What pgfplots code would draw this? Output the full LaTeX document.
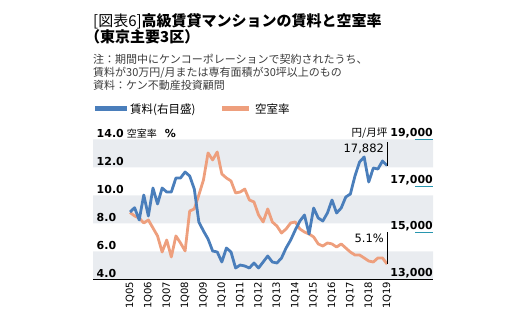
\documentclass[border=0pt]{standalone}
\usepackage{fontspec}
\setmainfont{Noto Sans CJK JP}
\newfontfamily\numfont{DejaVu Sans}
\usepackage{pgfplots}
\pgfplotsset{compat=1.18}
\definecolor{cblue}{RGB}{74,126,187}
\definecolor{corange}{RGB}{238,159,125}
\definecolor{cband}{RGB}{233,236,240}
\definecolor{cteal}{RGB}{40,150,175}
\definecolor{cnote}{RGB}{60,60,60}

\pgfplotstableread{
i R
0 15893
1 16077
2 15550
3 16621
4 15721
5 16921
6 16236
7 16921
8 16750
9 16750
10 17350
11 17350
12 17607
13 17436
14 16879
15 15464
16 15079
17 14736
18 14221
19 14179
20 13750
21 14350
22 14179
23 13493
24 13621
25 13579
26 13493
27 13707
28 13493
29 13750
30 14007
31 13750
32 13707
33 13921
34 14350
35 14693
36 15121
37 15507
38 15764
39 14950
40 16064
41 15636
42 15507
43 15850
44 16407
45 15850
46 16064
47 16536
48 16664
49 17436
50 18036
51 18250
52 17179
53 17779
54 17736
55 18079
56 17882
}\rent

\pgfplotstableread{
i V
0 8.79
1 8.54
2 8.39
3 8.04
4 8.25
5 7.68
6 7.11
7 5.96
8 6.82
9 5.61
10 7.11
11 6.61
12 6.04
13 8.89
14 9.04
15 10.04
16 11.11
17 13.04
18 12.54
19 13.11
20 11.54
21 11.25
22 11.04
23 10.18
24 10.25
25 10.46
26 9.68
27 9.54
28 8.61
29 8.11
30 9.04
31 8.11
32 7.82
33 7.32
34 7.61
35 8.04
36 8.11
37 7.61
38 7.39
39 7.25
40 7.04
41 6.54
42 6.39
43 6.61
44 6.54
45 6.32
46 6.54
47 6.25
48 5.96
49 5.75
50 5.75
51 5.54
52 5.32
53 5.25
54 5.54
55 5.54
56 5.10
}\vacancy

\pgfplotsset{
  common/.style={
    at={(93pt,46.5pt)}, anchor=south west, scale only axis,
    width=340pt, height=140pt,
    xmin=-8.06, xmax=66,
    axis line style={draw=none}, tick style={draw=none},
    clip=false,
  }
}

\begin{document}
\begin{tikzpicture}
\path[use as bounding box] (0,0) rectangle (526pt,326pt);

% titles
\node[anchor=base west, inner sep=0] at (93pt,299pt)
  {\fontsize{15}{16}\selectfont [図表6]\textbf{高級賃貸マンションの賃料と空室率}};
\node[anchor=base west, inner sep=0] at (93pt,283pt)
  {\fontsize{15}{16}\selectfont\bfseries\hspace*{-8pt}（東京主要3区）};
\node[anchor=base west, inner sep=0, text=cnote] at (93pt,262pt)
  {\fontsize{11}{13}\selectfont 注：期間中にケンコーポレーションで契約されたうち、};
\node[anchor=base west, inner sep=0, text=cnote] at (93pt,249pt)
  {\fontsize{11}{13}\selectfont 賃料が30万円/月または専有面積が30坪以上のもの};
\node[anchor=base west, inner sep=0, text=cnote] at (93pt,236pt)
  {\fontsize{11}{13}\selectfont 資料：ケン不動産投資顧問};

% legend
\fill[cblue] (95pt,215pt) rectangle (127pt,219.5pt);
\node[anchor=base west, inner sep=0] at (130pt,212pt) {\fontsize{11.5}{12}\selectfont 賃料(右目盛)};
\fill[corange] (222pt,215pt) rectangle (249pt,219.5pt);
\node[anchor=base west, inner sep=0] at (255pt,212pt) {\fontsize{11.5}{12}\selectfont 空室率};

% background bands
\begin{axis}[common, ymin=4, ymax=14, xtick=\empty, ytick=\empty]
\addplot[fill=cband, draw=none, forget plot] coordinates {(-8.06,4) (66,4) (66,6) (-8.06,6) (-8.06,4)};
\addplot[fill=cband, draw=none, forget plot] coordinates {(-8.06,8) (66,8) (66,10) (-8.06,10) (-8.06,8)};
\addplot[fill=cband, draw=none, forget plot] coordinates {(-8.06,12) (66,12) (66,14) (-8.06,14) (-8.06,12)};
\draw[black, line width=1pt] (rel axis cs:0,0) -- (rel axis cs:1,0);
\end{axis}

% left axis: vacancy rate
\begin{axis}[
  common, ymin=4, ymax=14,
  xtick={0,4,...,56},
  xticklabels={1Q05,1Q06,1Q07,1Q08,1Q09,1Q10,1Q11,1Q12,1Q13,1Q14,1Q15,1Q16,1Q17,1Q18,1Q19},
  xticklabel style={rotate=90, anchor=east, inner sep=0pt, xshift=-2pt,
    font=\numfont\fontsize{10}{10}\selectfont},
  ytick={4,6,8,10,12,14},
  yticklabels={4.0,6.0,8.0,10.0,12.0,{14.0\hspace{3pt}{\normalfont\fontsize{10}{10}\selectfont 空室率}\hspace{8pt}\%}},
  yticklabel style={anchor=base west, inner sep=0pt, xshift=3.5pt, yshift=2pt,
    font=\numfont\bfseries\fontsize{11}{11}\selectfont},
]
\addplot[corange, line width=2.8pt, line join=round, mark=none] table[x=i, y=V] {\vacancy};
\draw[black, line width=0.7pt] (axis cs:56,5.1) -- (axis cs:56,7.4);
\node[anchor=base east, inner sep=0, font=\numfont\fontsize{11.5}{12}\selectfont]
  at (axis cs:56,6.61) [xshift=-3pt] {5.1\%};
\end{axis}

% right axis: rent
\begin{axis}[
  common, ymin=13000, ymax=19000,
  scaled y ticks=false,
  xtick=\empty,
  ytick={13000,15000,17000,19000},
  yticklabel pos=right,
  yticklabels={{13,000},{15,000},{17,000},{{\normalfont\fontsize{10.5}{11}\selectfont 円/月坪}\hspace{3pt}19,000}},
  yticklabel style={anchor=base east, inner sep=0pt, xshift=0pt, yshift=3pt,
    font=\numfont\bfseries\fontsize{11}{11}\selectfont},
]
\draw[cteal, line width=1pt] (axis cs:62.1,19000) -- (axis cs:66,19000);
\draw[cteal, line width=1pt] (axis cs:62.1,17000) -- (axis cs:66,17000);
\draw[cteal, line width=1pt] (axis cs:62.1,15000) -- (axis cs:66,15000);
\addplot[cblue, line width=2.8pt, line join=round, mark=none] table[x=i, y=R] {\rent};
\draw[black, line width=0.7pt] (axis cs:56,17882) -- (axis cs:56,18893);
\node[anchor=base east, inner sep=0, font=\numfont\fontsize{11.5}{12}\selectfont]
  at (axis cs:56,18422) [xshift=-3pt] {17,882};
\end{axis}
\end{tikzpicture}
\end{document}
